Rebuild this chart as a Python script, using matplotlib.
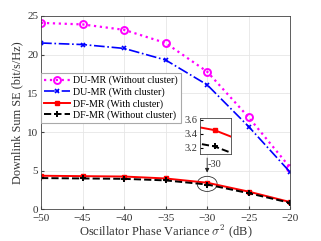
import numpy as np
import matplotlib.pyplot as plt
from matplotlib.patches import Ellipse

plt.rcParams['font.family'] = ['Liberation Serif', 'DejaVu Serif']
plt.rcParams['mathtext.fontset'] = 'cm'

x = [-50, -45, -40, -35, -30, -25, -20]
du_nc = [24.1, 23.9, 23.2, 21.5, 17.8, 11.9, 5.4]
du_c = [21.5, 21.3, 20.8, 19.3, 16.1, 10.7, 4.8]
df_c = [4.35, 4.3, 4.25, 4.0, 3.45, 2.3, 0.95]
df_nc = [4.05, 4.0, 3.95, 3.75, 3.22, 2.1, 0.85]

fig = plt.figure(figsize=(3.21, 2.41), dpi=100)
ax = fig.add_axes([0.128, 0.131, 0.776, 0.803])

def draw(a, ms=1.0):
    a.plot(x, du_nc, ':', color='magenta', lw=1.6, marker='o', ms=5*ms,
           mfc='none', mew=1.4, label='DU-MR (Without cluster)')
    a.plot(x, du_c, '-.', color='blue', lw=1.2, marker='x', ms=3.5*ms,
           mew=1.2, label='DU-MR (With cluster)')
    a.plot(x, df_c, '-', color='red', lw=1.4, marker='s', ms=3.5*ms,
           label='DF-MR (With cluster)')
    a.plot(x, df_nc, '--', color='black', lw=1.4, marker='+', ms=4.5*ms,
           mew=1.4, label='DF-MR (Without cluster)')

draw(ax)
ax.set_xlim(-50, -20)
ax.set_ylim(0, 25)
ax.set_xticks(x)
ax.set_yticks([0, 5, 10, 15, 20, 25])
ax.grid(True, color='#e6e6e6', lw=0.6)
ax.set_axisbelow(True)
ax.tick_params(labelsize=8, direction='in', length=2, pad=2,
               color='#444444', labelcolor='#333333')
ax.tick_params(axis='x', pad=3.5)
for s in ax.spines.values():
    s.set_color('#444444')
    s.set_linewidth(0.6)
ax.set_xlabel(r'Oscillator Phase Variance $\sigma^2$ (dB)', fontsize=9, color='#333333', labelpad=-0.5)
ax.set_ylabel('Downlink Sum SE (bit/s/Hz)', fontsize=8.8, color='#333333', labelpad=3)

leg = ax.legend(loc='upper left', bbox_to_anchor=(0.0, 0.706), fontsize=7.2,
                frameon=True, fancybox=False, edgecolor='#aaaaaa', framealpha=1,
                handlelength=2.6, borderpad=0.3, labelspacing=0.2, handletextpad=0.3,
                borderaxespad=0)
leg.get_frame().set_linewidth(0.8)

# zoom ellipse
ax.add_patch(Ellipse((-30, 3.3), 2.4, 1.95, fill=False, ec='#333333', lw=0.6))

# inset
ins = fig.add_axes([0.623, 0.36, 0.097, 0.15])
draw(ins, ms=1.0)
ins.set_xlim(-30.35, -29.6)
ins.set_ylim(3.11, 3.62)
ins.set_xticks([])
ins.set_yticks([3.2, 3.4, 3.6])
ins.tick_params(labelsize=7.5, direction='in', length=2, pad=2, labelcolor='#333333')
for s in ins.spines.values():
    s.set_color('#444444')
    s.set_linewidth(0.6)

ax.annotate('', xy=(-30, 4.4), xytext=(-30, 7.0),
            arrowprops=dict(arrowstyle='-|>', color='#222222', lw=0.6, mutation_scale=6))
ax.text(-29.9, 5.8, '-30', fontsize=7.5, color='#333333', ha='left', va='center')

fig.savefig('out.png', dpi=100)
